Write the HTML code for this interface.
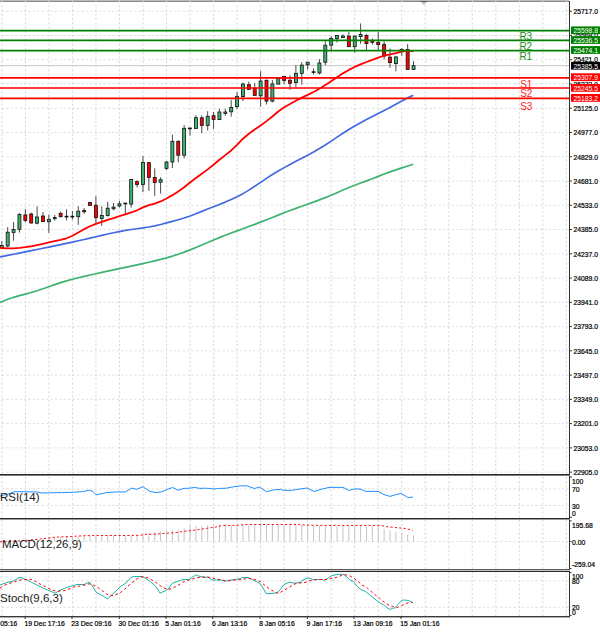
<!DOCTYPE html><html><head><meta charset="utf-8"><style>
html,body{margin:0;padding:0;background:#fff;width:600px;height:632px;overflow:hidden}
svg{display:block}
text{font-family:"Liberation Sans",sans-serif}
.ax{font-size:6.8px;fill:#000;stroke:#000;stroke-width:0.2px}
.lb{font-size:6.8px;fill:#fff}
.ind{font-size:11.5px;fill:#1a1a1a}
</style></head><body>
<svg width="600" height="632" viewBox="0 0 600 632" shape-rendering="auto">
<rect x="0" y="0" width="569" height="1" fill="#bdbdbd"/>
<rect x="0" y="1" width="569" height="1" fill="#8a8a8a"/>
<line x1="1.9" y1="0.7" x2="1.9" y2="616" stroke="#d8d8d8" stroke-width="1" stroke-dasharray="2.1 2.19"/>
<line x1="25.42" y1="0.7" x2="25.42" y2="616" stroke="#d8d8d8" stroke-width="1" stroke-dasharray="2.1 2.19"/>
<line x1="48.94" y1="0.7" x2="48.94" y2="616" stroke="#d8d8d8" stroke-width="1" stroke-dasharray="2.1 2.19"/>
<line x1="72.46" y1="0.7" x2="72.46" y2="616" stroke="#d8d8d8" stroke-width="1" stroke-dasharray="2.1 2.19"/>
<line x1="95.98" y1="0.7" x2="95.98" y2="616" stroke="#d8d8d8" stroke-width="1" stroke-dasharray="2.1 2.19"/>
<line x1="119.5" y1="0.7" x2="119.5" y2="616" stroke="#d8d8d8" stroke-width="1" stroke-dasharray="2.1 2.19"/>
<line x1="143.02" y1="0.7" x2="143.02" y2="616" stroke="#d8d8d8" stroke-width="1" stroke-dasharray="2.1 2.19"/>
<line x1="166.54" y1="0.7" x2="166.54" y2="616" stroke="#d8d8d8" stroke-width="1" stroke-dasharray="2.1 2.19"/>
<line x1="190.06" y1="0.7" x2="190.06" y2="616" stroke="#d8d8d8" stroke-width="1" stroke-dasharray="2.1 2.19"/>
<line x1="213.58" y1="0.7" x2="213.58" y2="616" stroke="#d8d8d8" stroke-width="1" stroke-dasharray="2.1 2.19"/>
<line x1="237.1" y1="0.7" x2="237.1" y2="616" stroke="#d8d8d8" stroke-width="1" stroke-dasharray="2.1 2.19"/>
<line x1="260.62" y1="0.7" x2="260.62" y2="616" stroke="#d8d8d8" stroke-width="1" stroke-dasharray="2.1 2.19"/>
<line x1="284.14" y1="0.7" x2="284.14" y2="616" stroke="#d8d8d8" stroke-width="1" stroke-dasharray="2.1 2.19"/>
<line x1="307.66" y1="0.7" x2="307.66" y2="616" stroke="#d8d8d8" stroke-width="1" stroke-dasharray="2.1 2.19"/>
<line x1="331.18" y1="0.7" x2="331.18" y2="616" stroke="#d8d8d8" stroke-width="1" stroke-dasharray="2.1 2.19"/>
<line x1="354.7" y1="0.7" x2="354.7" y2="616" stroke="#d8d8d8" stroke-width="1" stroke-dasharray="2.1 2.19"/>
<line x1="378.22" y1="0.7" x2="378.22" y2="616" stroke="#d8d8d8" stroke-width="1" stroke-dasharray="2.1 2.19"/>
<line x1="401.74" y1="0.7" x2="401.74" y2="616" stroke="#d8d8d8" stroke-width="1" stroke-dasharray="2.1 2.19"/>
<line x1="425.26" y1="0.7" x2="425.26" y2="616" stroke="#d8d8d8" stroke-width="1" stroke-dasharray="2.1 2.19"/>
<line x1="448.78" y1="0.7" x2="448.78" y2="616" stroke="#d8d8d8" stroke-width="1" stroke-dasharray="2.1 2.19"/>
<line x1="472.3" y1="0.7" x2="472.3" y2="616" stroke="#d8d8d8" stroke-width="1" stroke-dasharray="2.1 2.19"/>
<line x1="495.82" y1="0.7" x2="495.82" y2="616" stroke="#d8d8d8" stroke-width="1" stroke-dasharray="2.1 2.19"/>
<line x1="519.34" y1="0.7" x2="519.34" y2="616" stroke="#d8d8d8" stroke-width="1" stroke-dasharray="2.1 2.19"/>
<line x1="542.86" y1="0.7" x2="542.86" y2="616" stroke="#d8d8d8" stroke-width="1" stroke-dasharray="2.1 2.19"/>
<line x1="566.38" y1="0.7" x2="566.38" y2="616" stroke="#d8d8d8" stroke-width="1" stroke-dasharray="2.1 2.19"/>
<line x1="0" y1="11.2" x2="569" y2="11.2" stroke="#dedede" stroke-width="1" stroke-dasharray="2.2 2.21" stroke-dashoffset="-2"/>
<line x1="0" y1="35.46" x2="569" y2="35.46" stroke="#dedede" stroke-width="1" stroke-dasharray="2.2 2.21" stroke-dashoffset="-2"/>
<line x1="0" y1="59.72" x2="569" y2="59.72" stroke="#dedede" stroke-width="1" stroke-dasharray="2.2 2.21" stroke-dashoffset="-2"/>
<line x1="0" y1="83.98" x2="569" y2="83.98" stroke="#dedede" stroke-width="1" stroke-dasharray="2.2 2.21" stroke-dashoffset="-2"/>
<line x1="0" y1="108.24" x2="569" y2="108.24" stroke="#dedede" stroke-width="1" stroke-dasharray="2.2 2.21" stroke-dashoffset="-2"/>
<line x1="0" y1="132.5" x2="569" y2="132.5" stroke="#dedede" stroke-width="1" stroke-dasharray="2.2 2.21" stroke-dashoffset="-2"/>
<line x1="0" y1="156.76" x2="569" y2="156.76" stroke="#dedede" stroke-width="1" stroke-dasharray="2.2 2.21" stroke-dashoffset="-2"/>
<line x1="0" y1="181.02" x2="569" y2="181.02" stroke="#dedede" stroke-width="1" stroke-dasharray="2.2 2.21" stroke-dashoffset="-2"/>
<line x1="0" y1="205.28" x2="569" y2="205.28" stroke="#dedede" stroke-width="1" stroke-dasharray="2.2 2.21" stroke-dashoffset="-2"/>
<line x1="0" y1="229.54" x2="569" y2="229.54" stroke="#dedede" stroke-width="1" stroke-dasharray="2.2 2.21" stroke-dashoffset="-2"/>
<line x1="0" y1="253.8" x2="569" y2="253.8" stroke="#dedede" stroke-width="1" stroke-dasharray="2.2 2.21" stroke-dashoffset="-2"/>
<line x1="0" y1="278.06" x2="569" y2="278.06" stroke="#dedede" stroke-width="1" stroke-dasharray="2.2 2.21" stroke-dashoffset="-2"/>
<line x1="0" y1="302.32" x2="569" y2="302.32" stroke="#dedede" stroke-width="1" stroke-dasharray="2.2 2.21" stroke-dashoffset="-2"/>
<line x1="0" y1="326.58" x2="569" y2="326.58" stroke="#dedede" stroke-width="1" stroke-dasharray="2.2 2.21" stroke-dashoffset="-2"/>
<line x1="0" y1="350.84" x2="569" y2="350.84" stroke="#dedede" stroke-width="1" stroke-dasharray="2.2 2.21" stroke-dashoffset="-2"/>
<line x1="0" y1="375.1" x2="569" y2="375.1" stroke="#dedede" stroke-width="1" stroke-dasharray="2.2 2.21" stroke-dashoffset="-2"/>
<line x1="0" y1="399.36" x2="569" y2="399.36" stroke="#dedede" stroke-width="1" stroke-dasharray="2.2 2.21" stroke-dashoffset="-2"/>
<line x1="0" y1="423.62" x2="569" y2="423.62" stroke="#dedede" stroke-width="1" stroke-dasharray="2.2 2.21" stroke-dashoffset="-2"/>
<line x1="0" y1="447.88" x2="569" y2="447.88" stroke="#dedede" stroke-width="1" stroke-dasharray="2.2 2.21" stroke-dashoffset="-2"/>
<line x1="0" y1="472.14" x2="569" y2="472.14" stroke="#dedede" stroke-width="1" stroke-dasharray="2.2 2.21" stroke-dashoffset="-2"/>
<line x1="0" y1="488.8" x2="569" y2="488.8" stroke="#dedede" stroke-width="1" stroke-dasharray="2.2 2.21" stroke-dashoffset="-2"/>
<line x1="0" y1="505.5" x2="569" y2="505.5" stroke="#dedede" stroke-width="1" stroke-dasharray="2.2 2.21" stroke-dashoffset="-2"/>
<line x1="0" y1="541.5" x2="569" y2="541.5" stroke="#dedede" stroke-width="1" stroke-dasharray="2.2 2.21" stroke-dashoffset="-2"/>
<line x1="0" y1="580.8" x2="569" y2="580.8" stroke="#dedede" stroke-width="1" stroke-dasharray="2.2 2.21" stroke-dashoffset="-2"/>
<line x1="0" y1="607.3" x2="569" y2="607.3" stroke="#dedede" stroke-width="1" stroke-dasharray="2.2 2.21" stroke-dashoffset="-2"/>
<polygon points="420.8,1.6 427,1.6 423.9,5.2" fill="#bdbdbd"/>
<rect x="420.5" y="1" width="7" height="1" fill="#5a5a5a"/>
<line x1="0" y1="65.6" x2="569" y2="65.6" stroke="#c8c8c8" stroke-width="1"/>
<line x1="1.8" y1="241.1" x2="1.8" y2="248" stroke="#4a4a4a" stroke-width="1"/>
<rect x="0.3" y="245.5" width="3" height="2" fill="#3cb371" stroke="#111" stroke-width="0.8"/>
<line x1="7.68" y1="227.2" x2="7.68" y2="247.5" stroke="#4a4a4a" stroke-width="1"/>
<rect x="6.18" y="232.2" width="3" height="13.8" fill="#3cb371" stroke="#111" stroke-width="0.8"/>
<line x1="13.56" y1="222" x2="13.56" y2="240.7" stroke="#4a4a4a" stroke-width="1"/>
<rect x="12.06" y="229.4" width="3" height="3.1" fill="#3cb371" stroke="#111" stroke-width="0.8"/>
<line x1="19.45" y1="213" x2="19.45" y2="232.6" stroke="#4a4a4a" stroke-width="1"/>
<rect x="17.95" y="214.5" width="3" height="14.8" fill="#3cb371" stroke="#111" stroke-width="0.8"/>
<line x1="25.33" y1="209.2" x2="25.33" y2="222.5" stroke="#4a4a4a" stroke-width="1"/>
<rect x="23.83" y="214.9" width="3" height="5.7" fill="#ff0000" stroke="#111" stroke-width="0.8"/>
<line x1="31.21" y1="212.6" x2="31.21" y2="223.5" stroke="#4a4a4a" stroke-width="1"/>
<rect x="29.71" y="214" width="3" height="9" fill="#ff0000" stroke="#111" stroke-width="0.8"/>
<line x1="37.09" y1="206.4" x2="37.09" y2="224.4" stroke="#4a4a4a" stroke-width="1"/>
<rect x="35.59" y="217" width="3" height="6.2" fill="#3cb371" stroke="#111" stroke-width="0.8"/>
<line x1="42.97" y1="212" x2="42.97" y2="221.8" stroke="#4a4a4a" stroke-width="1"/>
<rect x="41.47" y="216" width="3" height="5.6" fill="#ff0000" stroke="#111" stroke-width="0.8"/>
<line x1="48.86" y1="214.6" x2="48.86" y2="232.9" stroke="#4a4a4a" stroke-width="1"/>
<rect x="47.36" y="219.3" width="3" height="2.4" fill="#3cb371" stroke="#111" stroke-width="0.8"/>
<line x1="54.74" y1="215" x2="54.74" y2="220.8" stroke="#4a4a4a" stroke-width="1"/>
<rect x="53.24" y="217.6" width="3" height="1" fill="#3cb371" stroke="#111" stroke-width="0.8"/>
<line x1="60.62" y1="211.5" x2="60.62" y2="217.5" stroke="#4a4a4a" stroke-width="1"/>
<rect x="59.12" y="213.3" width="3" height="3.4" fill="#ff0000" stroke="#111" stroke-width="0.8"/>
<line x1="66.5" y1="209.2" x2="66.5" y2="220.4" stroke="#4a4a4a" stroke-width="1"/>
<rect x="65" y="216.2" width="3" height="0.8" fill="#3cb371" stroke="#111" stroke-width="0.8"/>
<line x1="72.38" y1="210.8" x2="72.38" y2="219.6" stroke="#4a4a4a" stroke-width="1"/>
<rect x="70.88" y="216.2" width="3" height="0.8" fill="#3cb371" stroke="#111" stroke-width="0.8"/>
<line x1="78.27" y1="206.2" x2="78.27" y2="224.8" stroke="#4a4a4a" stroke-width="1"/>
<rect x="76.77" y="211.2" width="3" height="5.5" fill="#3cb371" stroke="#111" stroke-width="0.8"/>
<line x1="84.15" y1="207.9" x2="84.15" y2="213.7" stroke="#4a4a4a" stroke-width="1"/>
<rect x="82.65" y="210.4" width="3" height="1.4" fill="#ff0000" stroke="#111" stroke-width="0.8"/>
<line x1="90.03" y1="201.7" x2="90.03" y2="206" stroke="#4a4a4a" stroke-width="1"/>
<rect x="88.53" y="202.5" width="3" height="2.9" fill="#ff0000" stroke="#111" stroke-width="0.8"/>
<line x1="95.91" y1="196" x2="95.91" y2="224" stroke="#4a4a4a" stroke-width="1"/>
<rect x="94.41" y="205.2" width="3" height="12.5" fill="#ff0000" stroke="#111" stroke-width="0.8"/>
<line x1="101.79" y1="206.4" x2="101.79" y2="225.8" stroke="#4a4a4a" stroke-width="1"/>
<rect x="100.29" y="215.4" width="3" height="3.2" fill="#3cb371" stroke="#111" stroke-width="0.8"/>
<line x1="107.68" y1="201.9" x2="107.68" y2="216.5" stroke="#4a4a4a" stroke-width="1"/>
<rect x="106.18" y="208.2" width="3" height="7.4" fill="#3cb371" stroke="#111" stroke-width="0.8"/>
<line x1="113.56" y1="203" x2="113.56" y2="210.4" stroke="#4a4a4a" stroke-width="1"/>
<rect x="112.06" y="207.1" width="3" height="1.7" fill="#3cb371" stroke="#111" stroke-width="0.8"/>
<line x1="119.44" y1="200.8" x2="119.44" y2="207.4" stroke="#4a4a4a" stroke-width="1"/>
<rect x="117.94" y="203.8" width="3" height="2.2" fill="#3cb371" stroke="#111" stroke-width="0.8"/>
<line x1="125.32" y1="203" x2="125.32" y2="214.3" stroke="#4a4a4a" stroke-width="1"/>
<rect x="123.82" y="203.1" width="3" height="0.8" fill="#3cb371" stroke="#111" stroke-width="0.8"/>
<line x1="131.2" y1="179" x2="131.2" y2="207.6" stroke="#4a4a4a" stroke-width="1"/>
<rect x="129.7" y="179.4" width="3" height="24.7" fill="#3cb371" stroke="#111" stroke-width="0.8"/>
<line x1="137.09" y1="180.3" x2="137.09" y2="187.4" stroke="#4a4a4a" stroke-width="1"/>
<rect x="135.59" y="181.7" width="3" height="2.9" fill="#ff0000" stroke="#111" stroke-width="0.8"/>
<line x1="142.97" y1="156" x2="142.97" y2="192.2" stroke="#4a4a4a" stroke-width="1"/>
<rect x="141.47" y="162.4" width="3" height="22.2" fill="#3cb371" stroke="#111" stroke-width="0.8"/>
<line x1="148.85" y1="162.3" x2="148.85" y2="190.8" stroke="#4a4a4a" stroke-width="1"/>
<rect x="147.35" y="162.6" width="3" height="14.9" fill="#ff0000" stroke="#111" stroke-width="0.8"/>
<line x1="154.73" y1="168.3" x2="154.73" y2="195.8" stroke="#4a4a4a" stroke-width="1"/>
<rect x="153.23" y="177.5" width="3" height="5" fill="#ff0000" stroke="#111" stroke-width="0.8"/>
<line x1="160.61" y1="177.2" x2="160.61" y2="193.6" stroke="#4a4a4a" stroke-width="1"/>
<rect x="159.11" y="179.7" width="3" height="2.5" fill="#3cb371" stroke="#111" stroke-width="0.8"/>
<line x1="166.5" y1="161" x2="166.5" y2="170.2" stroke="#4a4a4a" stroke-width="1"/>
<rect x="165" y="162" width="3" height="6.5" fill="#3cb371" stroke="#111" stroke-width="0.8"/>
<line x1="172.38" y1="134.6" x2="172.38" y2="168" stroke="#4a4a4a" stroke-width="1"/>
<rect x="170.88" y="141.3" width="3" height="20.7" fill="#3cb371" stroke="#111" stroke-width="0.8"/>
<line x1="178.26" y1="140.3" x2="178.26" y2="162.3" stroke="#4a4a4a" stroke-width="1"/>
<rect x="176.76" y="141.3" width="3" height="13.9" fill="#ff0000" stroke="#111" stroke-width="0.8"/>
<line x1="184.14" y1="125.1" x2="184.14" y2="158.3" stroke="#4a4a4a" stroke-width="1"/>
<rect x="182.64" y="128.3" width="3" height="26.9" fill="#3cb371" stroke="#111" stroke-width="0.8"/>
<line x1="190.02" y1="127.8" x2="190.02" y2="135.6" stroke="#4a4a4a" stroke-width="1"/>
<rect x="188.52" y="128" width="3" height="0.8" fill="#3cb371" stroke="#111" stroke-width="0.8"/>
<line x1="195.91" y1="115.2" x2="195.91" y2="128.6" stroke="#4a4a4a" stroke-width="1"/>
<rect x="194.41" y="117.7" width="3" height="10.8" fill="#3cb371" stroke="#111" stroke-width="0.8"/>
<line x1="201.79" y1="115.4" x2="201.79" y2="133.2" stroke="#4a4a4a" stroke-width="1"/>
<rect x="200.29" y="117.8" width="3" height="7.6" fill="#ff0000" stroke="#111" stroke-width="0.8"/>
<line x1="207.67" y1="111.2" x2="207.67" y2="130.5" stroke="#4a4a4a" stroke-width="1"/>
<rect x="206.17" y="116.3" width="3" height="9.1" fill="#3cb371" stroke="#111" stroke-width="0.8"/>
<line x1="213.55" y1="111.9" x2="213.55" y2="128.9" stroke="#4a4a4a" stroke-width="1"/>
<rect x="212.05" y="115.7" width="3" height="3.8" fill="#ff0000" stroke="#111" stroke-width="0.8"/>
<line x1="219.43" y1="108.8" x2="219.43" y2="120" stroke="#4a4a4a" stroke-width="1"/>
<rect x="217.93" y="112" width="3" height="7.6" fill="#3cb371" stroke="#111" stroke-width="0.8"/>
<line x1="225.32" y1="108.8" x2="225.32" y2="115.8" stroke="#4a4a4a" stroke-width="1"/>
<rect x="223.82" y="112" width="3" height="1.4" fill="#3cb371" stroke="#111" stroke-width="0.8"/>
<line x1="231.2" y1="100.1" x2="231.2" y2="116.7" stroke="#4a4a4a" stroke-width="1"/>
<rect x="229.7" y="107.4" width="3" height="4.4" fill="#3cb371" stroke="#111" stroke-width="0.8"/>
<line x1="237.08" y1="92" x2="237.08" y2="109.1" stroke="#4a4a4a" stroke-width="1"/>
<rect x="235.58" y="96.3" width="3" height="10.4" fill="#3cb371" stroke="#111" stroke-width="0.8"/>
<line x1="242.96" y1="82.6" x2="242.96" y2="101" stroke="#4a4a4a" stroke-width="1"/>
<rect x="241.46" y="84" width="3" height="12.6" fill="#3cb371" stroke="#111" stroke-width="0.8"/>
<line x1="248.84" y1="81.6" x2="248.84" y2="89.6" stroke="#4a4a4a" stroke-width="1"/>
<rect x="247.34" y="84.7" width="3" height="4.8" fill="#ff0000" stroke="#111" stroke-width="0.8"/>
<line x1="254.73" y1="83" x2="254.73" y2="95.6" stroke="#4a4a4a" stroke-width="1"/>
<rect x="253.23" y="88.2" width="3" height="7.3" fill="#ff0000" stroke="#111" stroke-width="0.8"/>
<line x1="260.61" y1="71.2" x2="260.61" y2="106.7" stroke="#4a4a4a" stroke-width="1"/>
<rect x="259.11" y="81" width="3" height="14.8" fill="#3cb371" stroke="#111" stroke-width="0.8"/>
<line x1="266.49" y1="79.5" x2="266.49" y2="104.5" stroke="#4a4a4a" stroke-width="1"/>
<rect x="264.99" y="80.3" width="3" height="20.8" fill="#ff0000" stroke="#111" stroke-width="0.8"/>
<line x1="272.37" y1="80" x2="272.37" y2="102.4" stroke="#4a4a4a" stroke-width="1"/>
<rect x="270.87" y="83.9" width="3" height="17.2" fill="#3cb371" stroke="#111" stroke-width="0.8"/>
<line x1="278.25" y1="78.1" x2="278.25" y2="84.2" stroke="#4a4a4a" stroke-width="1"/>
<rect x="276.75" y="78.4" width="3" height="5.7" fill="#3cb371" stroke="#111" stroke-width="0.8"/>
<line x1="284.14" y1="75.9" x2="284.14" y2="84.1" stroke="#4a4a4a" stroke-width="1"/>
<rect x="282.64" y="76.4" width="3" height="4.1" fill="#ff0000" stroke="#111" stroke-width="0.8"/>
<line x1="290.02" y1="75.3" x2="290.02" y2="89.8" stroke="#4a4a4a" stroke-width="1"/>
<rect x="288.52" y="80.2" width="3" height="3.1" fill="#ff0000" stroke="#111" stroke-width="0.8"/>
<line x1="295.9" y1="65.1" x2="295.9" y2="87.2" stroke="#4a4a4a" stroke-width="1"/>
<rect x="294.4" y="73.3" width="3" height="9.3" fill="#3cb371" stroke="#111" stroke-width="0.8"/>
<line x1="301.78" y1="62.1" x2="301.78" y2="84.6" stroke="#4a4a4a" stroke-width="1"/>
<rect x="300.28" y="65.1" width="3" height="8.4" fill="#3cb371" stroke="#111" stroke-width="0.8"/>
<line x1="307.66" y1="62" x2="307.66" y2="69.4" stroke="#4a4a4a" stroke-width="1"/>
<rect x="306.16" y="62.2" width="3" height="2.6" fill="#3cb371" stroke="#111" stroke-width="0.8"/>
<line x1="313.55" y1="68.4" x2="313.55" y2="74.5" stroke="#4a4a4a" stroke-width="1"/>
<rect x="312.05" y="71.7" width="3" height="0.8" fill="#3cb371" stroke="#111" stroke-width="0.8"/>
<line x1="319.43" y1="59.1" x2="319.43" y2="74.5" stroke="#4a4a4a" stroke-width="1"/>
<rect x="317.93" y="63" width="3" height="10" fill="#3cb371" stroke="#111" stroke-width="0.8"/>
<line x1="325.31" y1="41.1" x2="325.31" y2="65.3" stroke="#4a4a4a" stroke-width="1"/>
<rect x="323.81" y="45.2" width="3" height="17" fill="#3cb371" stroke="#111" stroke-width="0.8"/>
<line x1="331.19" y1="36.3" x2="331.19" y2="51.4" stroke="#4a4a4a" stroke-width="1"/>
<rect x="329.69" y="38.3" width="3" height="6.9" fill="#3cb371" stroke="#111" stroke-width="0.8"/>
<line x1="337.07" y1="35.2" x2="337.07" y2="42.4" stroke="#4a4a4a" stroke-width="1"/>
<rect x="335.57" y="35.4" width="3" height="3.1" fill="#3cb371" stroke="#111" stroke-width="0.8"/>
<line x1="342.96" y1="34.3" x2="342.96" y2="37.7" stroke="#4a4a4a" stroke-width="1"/>
<rect x="341.46" y="36" width="3" height="1.6" fill="#3cb371" stroke="#111" stroke-width="0.8"/>
<line x1="348.84" y1="32" x2="348.84" y2="46.8" stroke="#4a4a4a" stroke-width="1"/>
<rect x="347.34" y="36.1" width="3" height="10.6" fill="#ff0000" stroke="#111" stroke-width="0.8"/>
<line x1="354.72" y1="35.6" x2="354.72" y2="52.6" stroke="#4a4a4a" stroke-width="1"/>
<rect x="353.22" y="36.1" width="3" height="10.6" fill="#3cb371" stroke="#111" stroke-width="0.8"/>
<line x1="360.6" y1="23.4" x2="360.6" y2="43.8" stroke="#4a4a4a" stroke-width="1"/>
<rect x="359.1" y="34.5" width="3" height="2.1" fill="#3cb371" stroke="#111" stroke-width="0.8"/>
<line x1="366.48" y1="34" x2="366.48" y2="50" stroke="#4a4a4a" stroke-width="1"/>
<rect x="364.98" y="35.4" width="3" height="8.2" fill="#ff0000" stroke="#111" stroke-width="0.8"/>
<line x1="372.37" y1="38.5" x2="372.37" y2="44.6" stroke="#4a4a4a" stroke-width="1"/>
<rect x="370.87" y="40.7" width="3" height="1.6" fill="#ff0000" stroke="#111" stroke-width="0.8"/>
<line x1="378.25" y1="32" x2="378.25" y2="50" stroke="#4a4a4a" stroke-width="1"/>
<rect x="376.75" y="42.3" width="3" height="2.3" fill="#ff0000" stroke="#111" stroke-width="0.8"/>
<line x1="384.13" y1="41.5" x2="384.13" y2="59.6" stroke="#4a4a4a" stroke-width="1"/>
<rect x="382.63" y="44.3" width="3" height="11.6" fill="#ff0000" stroke="#111" stroke-width="0.8"/>
<line x1="390.01" y1="48.5" x2="390.01" y2="67.7" stroke="#4a4a4a" stroke-width="1"/>
<rect x="388.51" y="57.1" width="3" height="5.5" fill="#ff0000" stroke="#111" stroke-width="0.8"/>
<line x1="395.89" y1="56.4" x2="395.89" y2="71.3" stroke="#4a4a4a" stroke-width="1"/>
<rect x="394.39" y="56.9" width="3" height="6.7" fill="#3cb371" stroke="#111" stroke-width="0.8"/>
<line x1="401.78" y1="48.1" x2="401.78" y2="55.9" stroke="#4a4a4a" stroke-width="1"/>
<rect x="400.28" y="49.5" width="3" height="1" fill="#3cb371" stroke="#111" stroke-width="0.8"/>
<line x1="407.66" y1="44" x2="407.66" y2="69.5" stroke="#4a4a4a" stroke-width="1"/>
<rect x="406.16" y="49.5" width="3" height="19.9" fill="#ff0000" stroke="#111" stroke-width="0.8"/>
<line x1="413.54" y1="61" x2="413.54" y2="69.9" stroke="#4a4a4a" stroke-width="1"/>
<rect x="412.04" y="65.6" width="3" height="3.8" fill="#3cb371" stroke="#111" stroke-width="0.8"/>
<polyline points="0,302.55 1.8,301.69 7.68,299.27 13.56,297.31 19.45,295.65 25.33,294.11 31.21,292.52 37.09,290.74 42.97,288.76 48.86,286.68 54.74,284.62 60.62,282.68 66.5,280.9 72.38,279.28 78.27,277.77 84.15,276.36 90.03,275.02 95.91,273.71 101.79,272.43 107.68,271.16 113.56,269.9 119.44,268.64 125.32,267.39 131.2,266.12 137.09,264.85 142.97,263.57 148.85,262.25 154.73,260.87 160.61,259.41 166.5,257.84 172.38,256.12 178.26,254.23 184.14,252.15 190.02,249.9 195.91,247.51 201.79,245.05 207.67,242.55 213.55,240.06 219.43,237.63 225.32,235.3 231.2,233.05 237.08,230.86 242.96,228.69 248.84,226.53 254.73,224.35 260.61,222.11 266.49,219.81 272.37,217.47 278.25,215.13 284.14,212.81 290.02,210.56 295.9,208.4 301.78,206.29 307.66,204.2 313.55,202.09 319.43,199.91 325.31,197.63 331.19,195.2 337.07,192.66 342.96,190.09 348.84,187.58 354.72,185.23 360.6,183.05 366.48,180.92 372.37,178.69 378.25,176.34 384.13,174.01 390.01,171.83 395.89,169.83 401.78,167.93 407.66,166.06 413.3,164.23" fill="none" stroke="#3cb371" stroke-width="1.7" stroke-linejoin="round"/>
<polyline points="0,256.98 1.8,256.62 7.68,255.44 13.56,254.26 19.45,253.07 25.33,251.88 31.21,250.68 37.09,249.48 42.97,248.27 48.86,247.06 54.74,245.83 60.62,244.6 66.5,243.35 72.38,242.08 78.27,240.79 84.15,239.47 90.03,238.13 95.91,236.76 101.79,235.38 107.68,234.04 113.56,232.75 119.44,231.55 125.32,230.46 131.2,229.53 137.09,228.73 142.97,227.94 148.85,227.02 154.73,225.85 160.61,224.47 166.5,222.94 172.38,221.35 178.26,219.71 184.14,217.95 190.02,215.98 195.91,213.76 201.79,211.4 207.67,209.06 213.55,206.77 219.43,204.48 225.32,202.09 231.2,199.54 237.08,196.74 242.96,193.63 248.84,190.12 254.73,186.31 260.61,182.33 266.49,178.35 272.37,174.52 278.25,170.96 284.14,167.62 290.02,164.44 295.9,161.35 301.78,158.28 307.66,155.18 313.55,151.97 319.43,148.59 325.31,144.97 331.19,141.1 337.07,137.12 342.96,133.22 348.84,129.52 354.72,126.04 360.6,122.74 366.48,119.6 372.37,116.56 378.25,113.55 384.13,110.53 390.01,107.44 395.89,104.23 401.78,100.99 407.66,97.89 413.3,95.2" fill="none" stroke="#4169e1" stroke-width="1.7" stroke-linejoin="round"/>
<polyline points="0,247.78 1.8,247.99 7.68,248.38 13.56,248.35 19.45,247.95 25.33,247.23 31.21,246.26 37.09,245.09 42.97,243.81 48.86,242.49 54.74,241.2 60.62,239.93 66.5,238.28 72.38,235.76 78.27,232.49 84.15,229.16 90.03,226.28 95.91,223.88 101.79,221.8 107.68,219.89 113.56,218.05 119.44,216.23 125.32,214.38 131.2,212.47 137.09,210.29 142.97,207.39 148.85,205.12 154.73,203.66 160.61,201.45 166.5,198.46 172.38,195.15 178.26,191.54 184.14,187.21 190.02,182.51 195.91,178.09 201.79,173.79 207.67,169.35 213.55,164.69 219.43,159.79 225.32,155.14 231.2,150.45 237.08,144.89 242.96,138.71 248.84,133.74 254.73,129.46 260.61,125.39 266.49,121.13 272.37,116.49 278.25,111.54 284.14,107.31 290.02,104.04 295.9,100.74 301.78,97.65 307.66,94.85 313.55,92.01 319.43,88.77 325.31,85.07 331.19,81.13 337.07,77.16 342.96,73.36 348.84,69.91 354.72,66.93 360.6,64.36 366.48,62.03 372.37,59.82 378.25,57.65 384.13,55.76 390.01,54.32 395.89,53.07 401.78,51.64 407.66,50.57 413.54,51.28" fill="none" stroke="#ff0000" stroke-width="1.8" stroke-linejoin="round"/>
<line x1="0" y1="30.6" x2="569" y2="30.6" stroke="#008000" stroke-width="1.7"/>
<line x1="0" y1="40.4" x2="569" y2="40.4" stroke="#008000" stroke-width="1.7"/>
<line x1="0" y1="50.6" x2="569" y2="50.6" stroke="#008000" stroke-width="1.7"/>
<line x1="0" y1="77.9" x2="569" y2="77.9" stroke="#ff0000" stroke-width="1.7"/>
<line x1="0" y1="88" x2="569" y2="88" stroke="#ff0000" stroke-width="1.7"/>
<line x1="0" y1="98.3" x2="569" y2="98.3" stroke="#ff0000" stroke-width="1.7"/>
<text x="519.4" y="39.9" font-size="10" fill="#1a8c1a">R3</text>
<text x="519.4" y="49.5" font-size="10" fill="#1a8c1a">R2</text>
<text x="519.4" y="59.8" font-size="10" fill="#1a8c1a">R1</text>
<text x="520.2" y="87.6" font-size="10" fill="#ff2020">S1</text>
<text x="520.2" y="97" font-size="10" fill="#ff2020">S2</text>
<text x="520.2" y="109.5" font-size="10" fill="#ff2020">S3</text>
<line x1="569.5" y1="1" x2="569.5" y2="474.5" stroke="#333" stroke-width="1"/>
<line x1="569.5" y1="11.2" x2="572" y2="11.2" stroke="#333" stroke-width="1"/>
<line x1="569.5" y1="35.46" x2="572" y2="35.46" stroke="#333" stroke-width="1"/>
<line x1="569.5" y1="59.72" x2="572" y2="59.72" stroke="#333" stroke-width="1"/>
<line x1="569.5" y1="83.98" x2="572" y2="83.98" stroke="#333" stroke-width="1"/>
<line x1="569.5" y1="108.24" x2="572" y2="108.24" stroke="#333" stroke-width="1"/>
<line x1="569.5" y1="132.5" x2="572" y2="132.5" stroke="#333" stroke-width="1"/>
<line x1="569.5" y1="156.76" x2="572" y2="156.76" stroke="#333" stroke-width="1"/>
<line x1="569.5" y1="181.02" x2="572" y2="181.02" stroke="#333" stroke-width="1"/>
<line x1="569.5" y1="205.28" x2="572" y2="205.28" stroke="#333" stroke-width="1"/>
<line x1="569.5" y1="229.54" x2="572" y2="229.54" stroke="#333" stroke-width="1"/>
<line x1="569.5" y1="253.8" x2="572" y2="253.8" stroke="#333" stroke-width="1"/>
<line x1="569.5" y1="278.06" x2="572" y2="278.06" stroke="#333" stroke-width="1"/>
<line x1="569.5" y1="302.32" x2="572" y2="302.32" stroke="#333" stroke-width="1"/>
<line x1="569.5" y1="326.58" x2="572" y2="326.58" stroke="#333" stroke-width="1"/>
<line x1="569.5" y1="350.84" x2="572" y2="350.84" stroke="#333" stroke-width="1"/>
<line x1="569.5" y1="375.1" x2="572" y2="375.1" stroke="#333" stroke-width="1"/>
<line x1="569.5" y1="399.36" x2="572" y2="399.36" stroke="#333" stroke-width="1"/>
<line x1="569.5" y1="423.62" x2="572" y2="423.62" stroke="#333" stroke-width="1"/>
<line x1="569.5" y1="447.88" x2="572" y2="447.88" stroke="#333" stroke-width="1"/>
<line x1="569.5" y1="472.14" x2="572" y2="472.14" stroke="#333" stroke-width="1"/>
<text class="ax" transform="translate(573.4,13.95) scale(1,1.12)">25717.0</text>
<text class="ax" transform="translate(573.4,38.21) scale(1,1.12)">25569.0</text>
<text class="ax" transform="translate(573.4,62.47) scale(1,1.12)">25421.0</text>
<text class="ax" transform="translate(573.4,86.73) scale(1,1.12)">25273.0</text>
<text class="ax" transform="translate(573.4,110.99) scale(1,1.12)">25125.0</text>
<text class="ax" transform="translate(573.4,135.25) scale(1,1.12)">24977.0</text>
<text class="ax" transform="translate(573.4,159.51) scale(1,1.12)">24829.0</text>
<text class="ax" transform="translate(573.4,183.77) scale(1,1.12)">24681.0</text>
<text class="ax" transform="translate(573.4,208.03) scale(1,1.12)">24533.0</text>
<text class="ax" transform="translate(573.4,232.29) scale(1,1.12)">24385.0</text>
<text class="ax" transform="translate(573.4,256.55) scale(1,1.12)">24237.0</text>
<text class="ax" transform="translate(573.4,280.81) scale(1,1.12)">24089.0</text>
<text class="ax" transform="translate(573.4,305.07) scale(1,1.12)">23941.0</text>
<text class="ax" transform="translate(573.4,329.33) scale(1,1.12)">23793.0</text>
<text class="ax" transform="translate(573.4,353.59) scale(1,1.12)">23645.0</text>
<text class="ax" transform="translate(573.4,377.85) scale(1,1.12)">23497.0</text>
<text class="ax" transform="translate(573.4,402.11) scale(1,1.12)">23349.0</text>
<text class="ax" transform="translate(573.4,426.37) scale(1,1.12)">23201.0</text>
<text class="ax" transform="translate(573.4,450.63) scale(1,1.12)">23053.0</text>
<text class="ax" transform="translate(573.4,474.89) scale(1,1.12)">22905.0</text>
<rect x="571" y="26.4" width="29" height="7.8" fill="#008000"/>
<text class="lb" transform="translate(573.4,33.05) scale(1,1.12)">25598.8</text>
<rect x="571" y="36.1" width="29" height="7.8" fill="#008000"/>
<text class="lb" transform="translate(573.4,42.75) scale(1,1.12)">25536.5</text>
<rect x="571" y="46.1" width="29" height="7.8" fill="#008000"/>
<text class="lb" transform="translate(573.4,52.75) scale(1,1.12)">25474.1</text>
<rect x="571" y="61.85" width="29" height="7.8" fill="#000000"/>
<text class="lb" transform="translate(573.4,68.5) scale(1,1.12)">25385.5</text>
<rect x="571" y="73.3" width="29" height="7.8" fill="#ff0000"/>
<text class="lb" transform="translate(573.4,79.95) scale(1,1.12)">25307.9</text>
<rect x="571" y="84" width="29" height="7.8" fill="#ff0000"/>
<text class="lb" transform="translate(573.4,90.65) scale(1,1.12)">25245.5</text>
<rect x="571" y="94" width="29" height="7.8" fill="#ff0000"/>
<text class="lb" transform="translate(573.4,100.65) scale(1,1.12)">25183.2</text>
<rect x="0" y="474" width="570" height="1" fill="#2a2a2a"/>
<rect x="0" y="475" width="570" height="1" fill="#7a7a7a"/>
<rect x="0" y="518" width="570" height="1" fill="#2a2a2a"/>
<rect x="0" y="519" width="570" height="1" fill="#9a9a9a"/>
<rect x="0" y="569" width="570" height="1" fill="#5a5a5a"/>
<rect x="0" y="570" width="570" height="1" fill="#c4c4c4"/>
<rect x="0" y="571" width="570" height="1" fill="#2a2a2a"/>
<rect x="0" y="616" width="570" height="1" fill="#3a3a3a"/>
<rect x="0" y="617" width="570" height="1" fill="#b0b0b0"/>
<line x1="569.5" y1="476" x2="569.5" y2="518" stroke="#333" stroke-width="1"/>
<line x1="569.5" y1="520" x2="569.5" y2="569" stroke="#333" stroke-width="1"/>
<line x1="569.5" y1="572" x2="569.5" y2="616" stroke="#333" stroke-width="1"/>
<polyline points="0,496.1 8,494 15,491.6 38,492 41,493 50.8,492.8 61.3,492.6 73.5,492.3 82.3,491.6 89.3,490.2 92.8,491.4 96.3,494.9 100,494 107,492.6 117.5,491.9 125.4,491.9 131.5,488.2 136.8,489.3 142.9,486.7 149.9,491.4 156,492.6 161.3,491.9 166.5,489.6 172.6,487.5 177.9,490.2 184,488.4 189.3,488.2 194.5,487.4 199.8,488.4 205.3,488.2 210.5,488.5 214,489 217.5,488.5 226.3,488.2 233.3,486.8 240.3,485.9 247.3,485.9 254.3,488.5 259.5,487.1 266.5,491.7 273.5,489.9 280.5,489.4 284,490.3 291,490.3 298,489.4 300,489 307,488 314,491.4 320,489.6 329,487.4 343,487.4 349,490.4 354,489 360,489 366,491.4 378,491.4 384,494.6 390,496.4 396,494.6 401,493.4 408,497.6 413,497" fill="none" stroke="#1e90ff" stroke-width="1" stroke-linejoin="round"/>
<text class="ind" x="-0.1" y="500.9">RSI(14)</text>
<text class="ax" transform="translate(572,483.75) scale(1,1.12)">100</text>
<text class="ax" transform="translate(572,491.75) scale(1,1.12)">70</text>
<text class="ax" transform="translate(572,508.55) scale(1,1.12)">30</text>
<text class="ax" transform="translate(572,515.85) scale(1,1.12)">0</text>
<line x1="569.5" y1="477" x2="572" y2="477" stroke="#333" stroke-width="1"/>
<line x1="569.5" y1="517.2" x2="572" y2="517.2" stroke="#333" stroke-width="1"/>
<line x1="1.8" y1="541.5" x2="1.8" y2="540.8" stroke="#c4c4c4" stroke-width="1"/>
<line x1="7.68" y1="541.5" x2="7.68" y2="540.6" stroke="#c4c4c4" stroke-width="1"/>
<line x1="13.56" y1="541.5" x2="13.56" y2="540.2" stroke="#c4c4c4" stroke-width="1"/>
<line x1="19.45" y1="541.5" x2="19.45" y2="539.8" stroke="#c4c4c4" stroke-width="1"/>
<line x1="25.33" y1="541.5" x2="25.33" y2="539.5" stroke="#c4c4c4" stroke-width="1"/>
<line x1="31.21" y1="541.5" x2="31.21" y2="539.2" stroke="#c4c4c4" stroke-width="1"/>
<line x1="37.09" y1="541.5" x2="37.09" y2="538.8" stroke="#c4c4c4" stroke-width="1"/>
<line x1="42.97" y1="541.5" x2="42.97" y2="538.5" stroke="#c4c4c4" stroke-width="1"/>
<line x1="48.86" y1="541.5" x2="48.86" y2="538" stroke="#c4c4c4" stroke-width="1"/>
<line x1="54.74" y1="541.5" x2="54.74" y2="537.5" stroke="#c4c4c4" stroke-width="1"/>
<line x1="60.62" y1="541.5" x2="60.62" y2="537" stroke="#c4c4c4" stroke-width="1"/>
<line x1="66.5" y1="541.5" x2="66.5" y2="536.6" stroke="#c4c4c4" stroke-width="1"/>
<line x1="72.38" y1="541.5" x2="72.38" y2="536.4" stroke="#c4c4c4" stroke-width="1"/>
<line x1="78.27" y1="541.5" x2="78.27" y2="536.3" stroke="#c4c4c4" stroke-width="1"/>
<line x1="84.15" y1="541.5" x2="84.15" y2="536.2" stroke="#c4c4c4" stroke-width="1"/>
<line x1="90.03" y1="541.5" x2="90.03" y2="536.1" stroke="#c4c4c4" stroke-width="1"/>
<line x1="95.91" y1="541.5" x2="95.91" y2="536.1" stroke="#c4c4c4" stroke-width="1"/>
<line x1="101.79" y1="541.5" x2="101.79" y2="536.1" stroke="#c4c4c4" stroke-width="1"/>
<line x1="107.68" y1="541.5" x2="107.68" y2="536.1" stroke="#c4c4c4" stroke-width="1"/>
<line x1="113.56" y1="541.5" x2="113.56" y2="536.1" stroke="#c4c4c4" stroke-width="1"/>
<line x1="119.44" y1="541.5" x2="119.44" y2="536.1" stroke="#c4c4c4" stroke-width="1"/>
<line x1="125.32" y1="541.5" x2="125.32" y2="536.1" stroke="#c4c4c4" stroke-width="1"/>
<line x1="131.2" y1="541.5" x2="131.2" y2="536" stroke="#c4c4c4" stroke-width="1"/>
<line x1="137.09" y1="541.5" x2="137.09" y2="535.8" stroke="#c4c4c4" stroke-width="1"/>
<line x1="142.97" y1="541.5" x2="142.97" y2="533.2" stroke="#c4c4c4" stroke-width="1"/>
<line x1="148.85" y1="541.5" x2="148.85" y2="533.2" stroke="#c4c4c4" stroke-width="1"/>
<line x1="154.73" y1="541.5" x2="154.73" y2="532" stroke="#c4c4c4" stroke-width="1"/>
<line x1="160.61" y1="541.5" x2="160.61" y2="531.7" stroke="#c4c4c4" stroke-width="1"/>
<line x1="166.5" y1="541.5" x2="166.5" y2="530.2" stroke="#c4c4c4" stroke-width="1"/>
<line x1="172.38" y1="541.5" x2="172.38" y2="530.2" stroke="#c4c4c4" stroke-width="1"/>
<line x1="178.26" y1="541.5" x2="178.26" y2="529.7" stroke="#c4c4c4" stroke-width="1"/>
<line x1="184.14" y1="541.5" x2="184.14" y2="528.2" stroke="#c4c4c4" stroke-width="1"/>
<line x1="190.02" y1="541.5" x2="190.02" y2="525.7" stroke="#c4c4c4" stroke-width="1"/>
<line x1="195.91" y1="541.5" x2="195.91" y2="526" stroke="#c4c4c4" stroke-width="1"/>
<line x1="201.79" y1="541.5" x2="201.79" y2="526" stroke="#c4c4c4" stroke-width="1"/>
<line x1="207.67" y1="541.5" x2="207.67" y2="525.2" stroke="#c4c4c4" stroke-width="1"/>
<line x1="213.55" y1="541.5" x2="213.55" y2="525.2" stroke="#c4c4c4" stroke-width="1"/>
<line x1="219.43" y1="541.5" x2="219.43" y2="524.5" stroke="#c4c4c4" stroke-width="1"/>
<line x1="225.32" y1="541.5" x2="225.32" y2="524.2" stroke="#c4c4c4" stroke-width="1"/>
<line x1="231.2" y1="541.5" x2="231.2" y2="525" stroke="#c4c4c4" stroke-width="1"/>
<line x1="237.08" y1="541.5" x2="237.08" y2="525" stroke="#c4c4c4" stroke-width="1"/>
<line x1="242.96" y1="541.5" x2="242.96" y2="525" stroke="#c4c4c4" stroke-width="1"/>
<line x1="248.84" y1="541.5" x2="248.84" y2="525" stroke="#c4c4c4" stroke-width="1"/>
<line x1="254.73" y1="541.5" x2="254.73" y2="525" stroke="#c4c4c4" stroke-width="1"/>
<line x1="260.61" y1="541.5" x2="260.61" y2="525" stroke="#c4c4c4" stroke-width="1"/>
<line x1="266.49" y1="541.5" x2="266.49" y2="525" stroke="#c4c4c4" stroke-width="1"/>
<line x1="272.37" y1="541.5" x2="272.37" y2="525" stroke="#c4c4c4" stroke-width="1"/>
<line x1="278.25" y1="541.5" x2="278.25" y2="525" stroke="#c4c4c4" stroke-width="1"/>
<line x1="284.14" y1="541.5" x2="284.14" y2="525" stroke="#c4c4c4" stroke-width="1"/>
<line x1="290.02" y1="541.5" x2="290.02" y2="525" stroke="#c4c4c4" stroke-width="1"/>
<line x1="295.9" y1="541.5" x2="295.9" y2="525" stroke="#c4c4c4" stroke-width="1"/>
<line x1="301.78" y1="541.5" x2="301.78" y2="525" stroke="#c4c4c4" stroke-width="1"/>
<line x1="307.66" y1="541.5" x2="307.66" y2="525" stroke="#c4c4c4" stroke-width="1"/>
<line x1="313.55" y1="541.5" x2="313.55" y2="525.8" stroke="#c4c4c4" stroke-width="1"/>
<line x1="319.43" y1="541.5" x2="319.43" y2="525.8" stroke="#c4c4c4" stroke-width="1"/>
<line x1="325.31" y1="541.5" x2="325.31" y2="525.8" stroke="#c4c4c4" stroke-width="1"/>
<line x1="331.19" y1="541.5" x2="331.19" y2="525.8" stroke="#c4c4c4" stroke-width="1"/>
<line x1="337.07" y1="541.5" x2="337.07" y2="525.8" stroke="#c4c4c4" stroke-width="1"/>
<line x1="342.96" y1="541.5" x2="342.96" y2="525.8" stroke="#c4c4c4" stroke-width="1"/>
<line x1="348.84" y1="541.5" x2="348.84" y2="525.8" stroke="#c4c4c4" stroke-width="1"/>
<line x1="354.72" y1="541.5" x2="354.72" y2="525.8" stroke="#c4c4c4" stroke-width="1"/>
<line x1="360.6" y1="541.5" x2="360.6" y2="525.8" stroke="#c4c4c4" stroke-width="1"/>
<line x1="366.48" y1="541.5" x2="366.48" y2="525.8" stroke="#c4c4c4" stroke-width="1"/>
<line x1="372.37" y1="541.5" x2="372.37" y2="525.8" stroke="#c4c4c4" stroke-width="1"/>
<line x1="378.25" y1="541.5" x2="378.25" y2="525.8" stroke="#c4c4c4" stroke-width="1"/>
<line x1="384.13" y1="541.5" x2="384.13" y2="529.1" stroke="#c4c4c4" stroke-width="1"/>
<line x1="390.01" y1="541.5" x2="390.01" y2="530.4" stroke="#c4c4c4" stroke-width="1"/>
<line x1="395.89" y1="541.5" x2="395.89" y2="532.2" stroke="#c4c4c4" stroke-width="1"/>
<line x1="401.78" y1="541.5" x2="401.78" y2="532.8" stroke="#c4c4c4" stroke-width="1"/>
<line x1="407.66" y1="541.5" x2="407.66" y2="534.6" stroke="#c4c4c4" stroke-width="1"/>
<line x1="413.54" y1="541.5" x2="413.54" y2="535.5" stroke="#c4c4c4" stroke-width="1"/>
<polyline points="0,541.8 10,541.6 20,541 30,540 40,539 55,537.2 70,536.5 85,535.7 100,535.5 130,535.5 140,535.3 147.5,534.2 155,534.2 162.5,533.5 170,533 177.5,532.4 185,531.2 192.5,530.5 200,529.4 207.5,528.2 215,527.2 222.5,525.5 232.5,525.4 240,525 247.5,524.5 297,524.5 303,525 315,525.3 319.2,525.4 379.7,525.4 387,526.7 398,527.8 405.4,528.5 412.8,530.4" fill="none" stroke="#ff1010" stroke-width="1" stroke-dasharray="2.2 2.2"/>
<text class="ind" x="2.0" y="548.3">MACD(12,26,9)</text>
<line x1="569.5" y1="520.8" x2="571.5" y2="520.8" stroke="#333" stroke-width="1"/>
<line x1="569.5" y1="541.6" x2="571.5" y2="541.6" stroke="#333" stroke-width="1"/>
<line x1="569.5" y1="568.6" x2="571.5" y2="568.6" stroke="#333" stroke-width="1"/>
<text class="ax" transform="translate(572,528.05) scale(1,1.12)">195.68</text>
<text class="ax" transform="translate(572,544.95) scale(1,1.12)">0.00</text>
<text class="ax" transform="translate(572,567.25) scale(1,1.12)">-259.04</text>
<polyline points="0,585 4,583.5 8,582.2 12,581.5 16,579.5 20,577.2 24,578.8 28,580.5 33,583 38,585.5 43,588 48,590.2 52,591.8 55,593.2 58,591.5 60,590.5 64,588.5 68,587 72,585.8 77,584.5 84,584.5 87,583.2 89.5,582.2 93,587 96,592 100,594.5 104,596.5 107.5,599 111,595.5 116,591 120,587 123,585 126,583 129,579.5 131,577.2 135,576.5 142,576.5 146,578.5 150,581.5 154,584.5 157,588 160,593.2 163,591.8 166,590.5 169,588 172,583.5 175,582.2 180,580.5 183,579.5 189,579.5 192,577.5 196,574.8 200,576.5 204,577.2 208,577.2 212,580 216,580 222,580.2 225,581.2 230,580.2 235,579.5 240,578.6 243,577.5 248,577.5 252,579.5 256,581.5 260,583.5 263,588 266,593.5 269,593.8 274,593.2 278,592.2 281,588.5 284,584.5 287,583 290,582.2 294,583.2 297,582.8 300,582.5 303,580 307,578.2 310,578.2 312.5,579.5 318,579.5 322,579.5 324.5,580.5 328,578 332,575.5 337,574.5 342,574.2 344,574.8 348,578 350,580.2 353.3,581.25 357.5,586.7 360.4,589.2 365.8,591.7 370.8,595.8 375,599.2 379.2,602.5 382.7,604.3 385.3,606.3 388,608.3 390.3,609.5 392.7,608.3 395.3,607.9 397.3,605.3 400,602 402,600.3 404.7,600 408,600.5 410.7,601.5 412.7,602.5" fill="none" stroke="#20b2aa" stroke-width="1" stroke-linejoin="round"/>
<polyline points="0,588 4,585.5 9,583.5 14,582 18,580.5 23,579.5 27,579.5 31,579.2 36,581.5 40,584 45,586.5 49,588.5 53,590.5 57,591.2 60,591 66,590.5 70,588.5 75,586.5 80,586 85,585 89,583.8 93,585 97,587 102,590.5 106,593.5 110,596 115,595 120,592.8 124,590 128,586 132,582.5 136,579.5 140,577.2 144,576.8 148,577.8 152,580 156,582.5 160,585.5 164,588 168,589.5 172,588.5 176,586.5 180,584.2 184,581.5 189,580 194,578.5 199,577.5 203,577.2 207,576.8 212,578 216,578.8 221,579.8 225,580.5 230,580.8 235,580 240,579.7 243,579.2 247,578.5 251,578.5 256,579.8 260.5,581.8 265,585.5 269,588.5 274,591.5 278,593.5 283,591 287,588.5 292,585.5 296,583.5 300,583 305,582.5 309,581 313,580 318,579.5 327,579.5 331,578.5 336,577.5 340,576 344,574.5 349,575.5 352.5,577.5 357.5,580.8 362,585 366.7,587.5 370.8,591.25 375,594.6 379.6,598.5 384,602 388,604.7 392.7,606.5 396.7,607.7 401.3,605.7 406,603.3 410.7,602.3 412.7,602.5" fill="none" stroke="#ff0000" stroke-width="1" stroke-dasharray="2.6 2.6"/>
<text class="ind" x="0.1" y="602.4">Stoch(9,6,3)</text>
<line x1="569.5" y1="572.6" x2="571.5" y2="572.6" stroke="#333" stroke-width="1"/>
<line x1="569.5" y1="615.4" x2="571.5" y2="615.4" stroke="#333" stroke-width="1"/>
<text class="ax" transform="translate(572,579.25) scale(1,1.12)">100</text>
<text class="ax" transform="translate(572,584.35) scale(1,1.12)">80</text>
<text class="ax" transform="translate(572,610.05) scale(1,1.12)">20</text>
<text class="ax" transform="translate(572,615.15) scale(1,1.12)">0</text>
<text class="ax" transform="translate(0.2,625.6) scale(1,1.12)">05:16</text>
<line x1="25.2" y1="616" x2="25.2" y2="619" stroke="#333" stroke-width="1"/>
<text class="ax" transform="translate(24.4,625.6) scale(1,1.12)">19 Dec 17:16</text>
<line x1="72" y1="616" x2="72" y2="619" stroke="#333" stroke-width="1"/>
<text class="ax" transform="translate(71.2,625.6) scale(1,1.12)">23 Dec 09:16</text>
<line x1="119.3" y1="616" x2="119.3" y2="619" stroke="#333" stroke-width="1"/>
<text class="ax" transform="translate(118.5,625.6) scale(1,1.12)">30 Dec 01:16</text>
<line x1="166" y1="616" x2="166" y2="619" stroke="#333" stroke-width="1"/>
<text class="ax" transform="translate(165.2,625.6) scale(1,1.12)">5 Jan 01:16</text>
<line x1="212.7" y1="616" x2="212.7" y2="619" stroke="#333" stroke-width="1"/>
<text class="ax" transform="translate(211.9,625.6) scale(1,1.12)">6 Jan 13:16</text>
<line x1="260" y1="616" x2="260" y2="619" stroke="#333" stroke-width="1"/>
<text class="ax" transform="translate(259.2,625.6) scale(1,1.12)">8 Jan 05:16</text>
<line x1="307.3" y1="616" x2="307.3" y2="619" stroke="#333" stroke-width="1"/>
<text class="ax" transform="translate(306.5,625.6) scale(1,1.12)">9 Jan 17:16</text>
<line x1="354" y1="616" x2="354" y2="619" stroke="#333" stroke-width="1"/>
<text class="ax" transform="translate(353.2,625.6) scale(1,1.12)">13 Jan 09:16</text>
<line x1="401" y1="616" x2="401" y2="619" stroke="#333" stroke-width="1"/>
<text class="ax" transform="translate(400.2,625.6) scale(1,1.12)">15 Jan 01:16</text>
</svg></body></html>
